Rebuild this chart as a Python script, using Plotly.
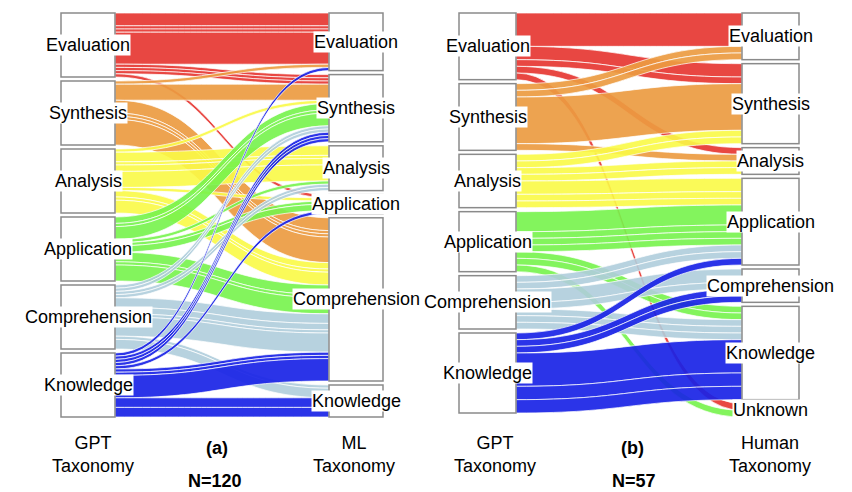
import plotly.graph_objects as go

# ---------------- data ----------------
levels = ["Evaluation", "Synthesis", "Analysis", "Application", "Comprehension", "Knowledge"]
right_b_levels = ["Evaluation", "Synthesis", "Analysis", "Application", "Comprehension", "Knowledge", "Unknown"]

level_colors = ["rgba(230,55,50,0.92)", "rgba(236,155,65,0.92)", "rgba(250,250,70,0.9)",
                "rgba(118,243,75,0.9)", "rgba(175,205,220,0.9)", "rgba(25,35,230,0.92)"]

# Panel (a): GPT taxonomy -> ML taxonomy (N=120)
a_source = ["Evaluation"] * 4 + ["Evaluation"] * 3 + ["Evaluation",
            "Synthesis", "Synthesis"] + ["Synthesis"] * 4 + [
            "Analysis"] + ["Analysis"] * 4 + ["Analysis"] + ["Analysis"] * 3 + [
            "Application"] * 3 + ["Application"] + ["Application"] * 2 + ["Application"] * 3 + [
            "Comprehension"] * 2 + ["Comprehension"] * 2 + ["Comprehension"] * 4 + ["Comprehension"] * 2 + [
            "Knowledge"] + ["Knowledge"] * 3 + ["Knowledge"] + ["Knowledge"] * 3 + ["Knowledge"] * 2
a_target = ["Evaluation"] * 4 + ["Synthesis"] * 3 + ["Application",
            "Evaluation", "Synthesis"] + ["Comprehension"] * 4 + [
            "Synthesis"] + ["Analysis"] * 4 + ["Application"] + ["Comprehension"] * 3 + [
            "Synthesis"] * 3 + ["Analysis"] + ["Application"] * 2 + ["Comprehension"] * 3 + [
            "Synthesis"] * 2 + ["Analysis"] * 2 + ["Comprehension"] * 4 + ["Knowledge"] * 2 + [
            "Evaluation"] + ["Synthesis"] * 3 + ["Application"] + ["Comprehension"] * 3 + ["Knowledge"] * 2
a_value = [4, 1, 1, 10] + [1, 1, 1] + [1,
           1, 5] + [4, 1, 1, 8] + [
           1] + [3, 1, 2, 5] + [1] + [2, 1, 4] + [
           2, 1, 4] + [1] + [1, 2] + [3, 1, 5] + [
           1, 1] + [1, 1] + [3, 2, 1, 6] + [1, 3] + [
           1] + [1, 1, 1] + [1] + [1, 1, 7] + [3, 3]

# Panel (b): GPT taxonomy -> Human taxonomy (N=57)
b_source = ["Evaluation"] + ["Evaluation"] * 2 + ["Evaluation", "Evaluation"] + [
            "Synthesis"] * 2 + ["Synthesis", "Synthesis"] + [
            "Analysis"] * 2 + ["Analysis"] * 2 + ["Analysis"] * 3 + [
            "Application"] * 4 + ["Application"] * 2 + ["Application"] + [
            "Comprehension"] * 2 + ["Comprehension"] * 2 + ["Comprehension"] * 3 + [
            "Knowledge"] + ["Knowledge"] * 2 + ["Knowledge"] * 3
b_target = ["Evaluation"] + ["Synthesis"] * 2 + ["Analysis", "Unknown"] + [
            "Evaluation"] * 2 + ["Synthesis", "Analysis"] + [
            "Synthesis"] * 2 + ["Analysis"] * 2 + ["Application"] * 3 + [
            "Application"] * 4 + ["Knowledge"] * 2 + ["Unknown"] + [
            "Application"] * 2 + ["Comprehension"] * 2 + ["Knowledge"] * 3 + [
            "Application"] + ["Comprehension"] * 2 + ["Knowledge"] * 3
b_value = [5] + [2, 1] + [1, 1] + [
           1, 1] + [7, 1] + [
           1, 1] + [1, 1] + [2, 1, 1] + [
           3, 1, 1, 1] + [1, 1] + [1] + [
           1, 1] + [2, 1] + [1, 1, 1] + [
           1] + [1, 1] + [5, 2, 2]

# ---------------- layout geometry ----------------
FIG_W, FIG_H = 852, 492
TOP, BOTTOM = 13, 417
PAD = 4
OFF = 8  # page body margin: the figure is drawn 8px in from the window's corner

panels = [
    dict(left=levels, right=levels, src=a_source, tgt=a_target, val=a_value,
         x0=61, x1=383, thick=54,
         bottom_left="GPT<br>Taxonomy", bottom_right="ML<br>Taxonomy", tag="(a)", n="N=120",
         bl_dx=5, br_dx=-2, tag_x=217, n_x=215),
    dict(left=levels, right=right_b_levels, src=b_source, tgt=b_target, val=b_value,
         x0=459, x1=799, thick=57,
         bottom_left="GPT<br>Taxonomy", bottom_right="Human<br>Taxonomy", tag="(b)", n="N=57",
         bl_dx=7, br_dx=-1, tag_x=632, n_x=634),
]


def px(X):
    return (X - OFF) / FIG_W


def py(Y):
    return 1 - (Y - OFF) / FIG_H


fig = go.Figure()
annotations = []
H = BOTTOM - TOP
label_font = dict(family="Liberation Sans, Arial, sans-serif", size=18, color="black")


def txt(x, y, text, bg=None):
    d = dict(x=x, y=y, text=text, showarrow=False, xref="paper", yref="paper",
             xanchor="center", yanchor="middle", font=label_font, borderpad=0)
    if bg:
        d["bgcolor"] = bg
    return d


for p in panels:
    left, right = p["left"], p["right"]
    nl = len(left)
    lt = [sum(v for s, v in zip(p["src"], p["val"]) if s == name) for name in left]
    rt = [sum(v for t, v in zip(p["tgt"], p["val"]) if t == name) for name in right]
    ky = min((H - (len(left) - 1) * PAD) / sum(lt), (H - (len(right) - 1) * PAD) / sum(rt))
    W = p["x1"] - p["x0"]

    def centers(tots):
        out, off = [], 0.0
        for t in tots:
            h = t * ky
            out.append(off + h / 2)
            off += h + PAD
        return out

    lc, rc = centers(lt), centers(rt)
    xs = [p["thick"] / 2 / W] * nl + [1 - p["thick"] / 2 / W] * len(right)
    ys = [c / H for c in lc] + [c / H for c in rc]

    src_idx = [left.index(s) for s in p["src"]]
    tgt_idx = [nl + right.index(t) for t in p["tgt"]]
    link_colors = [level_colors[i] for i in src_idx]

    fig.add_trace(go.Sankey(
        domain=dict(x=[px(p["x0"]), px(p["x1"])], y=[py(BOTTOM), py(TOP)]),
        arrangement="fixed",
        node=dict(label=[""] * (nl + len(right)), x=xs, y=ys, pad=PAD,
                  thickness=p["thick"], color="white",
                  line=dict(color="#8a8a8a", width=1.5)),
        link=dict(source=src_idx, target=tgt_idx, value=p["val"], color=link_colors,
                  line=dict(color="rgba(255,255,255,0.9)", width=0.8)),
        textfont=dict(size=1, color="rgba(0,0,0,0)"),
        hoverinfo="none",
    ))

    lx = p["x0"] + p["thick"] / 2
    rx = p["x1"] - p["thick"] / 2
    for name, c in zip(left, lc):
        annotations.append(txt(px(lx), py(TOP + c), name, "white"))
    for name, c in zip(right, rc):
        annotations.append(txt(px(rx), py(TOP + c), name, "white"))
    annotations.append(txt(px(lx + p["bl_dx"]), py(454), p["bottom_left"]))
    annotations.append(txt(px(rx + p["br_dx"]), py(454), p["bottom_right"]))
    annotations.append(txt(px(p["tag_x"]), py(448), "<b>" + p["tag"] + "</b>"))
    annotations.append(txt(px(p["n_x"]), py(481), "<b>" + p["n"] + "</b>"))

fig.update_layout(
    width=FIG_W, height=FIG_H,
    margin=dict(l=0, r=0, t=0, b=0),
    paper_bgcolor="white", plot_bgcolor="white",
    annotations=annotations,
    font=label_font,
)

fig.write_html("out.html")
